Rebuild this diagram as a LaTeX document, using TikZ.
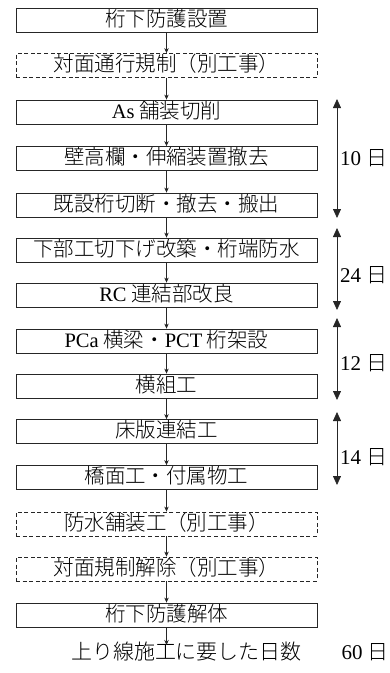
\documentclass[tikz,border=0pt]{standalone}
\usepackage{fontspec}
\setmainfont{Liberation Serif}
\newfontfamily\jp{Noto Sans CJK JP}[UprightFont=* Light]
\newcommand\lat[1]{{\rmfamily #1}}
\usetikzlibrary{arrows.meta}
\tikzset{
  proc/.style={draw=black!85, line width=0.8pt, minimum width=301pt, minimum height=24pt,
    inner sep=0pt, font=\jp\fontsize{20.5}{24}\selectfont, text height=15pt, text depth=3pt},
  other/.style={proc, dash pattern=on 4pt off 2.6pt},
  flow/.style={draw=black!85, line width=0.7pt, -{Stealth[length=5pt,width=4.5pt]}},
  span/.style={draw=black!85, line width=0.8pt, {Triangle[length=9pt,width=8pt]}-{Triangle[length=9pt,width=8pt]}},
  days/.style={anchor=west, inner sep=0pt, font=\fontsize{21}{24}\selectfont},
  total/.style={inner sep=0pt, font=\jp\fontsize{21}{24}\selectfont}
}
\begin{document}
\begin{tikzpicture}[x=1pt,y=-1pt]
\useasboundingbox (0,0) rectangle (390,673);
\node[proc]  (b1)  at (166.5,20.5) {桁下防護設置};
\node[other] (b2)  at (166.5,65.5) {対面通行規制（別工事）};
\node[proc]  (b3)  at (166.5,112)  {\lat{As} 舗装切削};
\node[proc]  (b4)  at (166.5,158.5){壁高欄・伸縮装置撤去};
\node[proc]  (b5)  at (166.5,205)  {既設桁切断・撤去・搬出};
\node[proc]  (b6)  at (166.5,250)  {下部工切下げ改築・桁端防水};
\node[proc]  (b7)  at (166.5,295)  {\lat{RC} 連結部改良};
\node[proc]  (b8)  at (166.5,341)  {\lat{PCa} 横梁・\lat{PCT} 桁架設};
\node[proc]  (b9)  at (166.5,386)  {横組工};
\node[proc]  (b10) at (166.5,431.5){床版連結工};
\node[proc]  (b11) at (166.5,477.5){橋面工・付属物工};
\node[other] (b12) at (166.5,524)  {防水舗装工（別工事）};
\node[other] (b13) at (166.5,569)  {対面規制解除（別工事）};
\node[proc]  (b14) at (166.5,615)  {桁下防護解体};
\node[total] (t)   at (186.5,652)  {上り線施工に要した日数};
\node[total, anchor=east] (tt)  at (388.5,652)    {\lat{60} 日};
\coordinate (e) at (166.5,645);
\foreach \a/\b in {b1/b2,b2/b3,b3/b4,b4/b5,b5/b6,b6/b7,b7/b8,b8/b9,b9/b10,b10/b11,b11/b12,b12/b13,b13/b14}
  \draw[flow] (\a.south) -- (\b.north);
\draw[flow] (b14.south) -- (e);
\coordinate (s1a) at (337,99);  \coordinate (s1b) at (337,218);
\coordinate (s2a) at (337,228); \coordinate (s2b) at (337,310);
\coordinate (s3a) at (337,318); \coordinate (s3b) at (337,400);
\coordinate (s4a) at (337,412); \coordinate (s4b) at (337,485);
\draw[span] (s1a) -- (s1b);
\draw[span] (s2a) -- (s2b);
\draw[span] (s3a) -- (s3b);
\draw[span] (s4a) -- (s4b);
\node[days] (d1) at (340,158) {10 {\jp 日}};
\node[days] (d2) at (340,275) {24 {\jp 日}};
\node[days] (d3) at (340,363) {12 {\jp 日}};
\node[days] (d4) at (340,457) {14 {\jp 日}};
\end{tikzpicture}
\end{document}
